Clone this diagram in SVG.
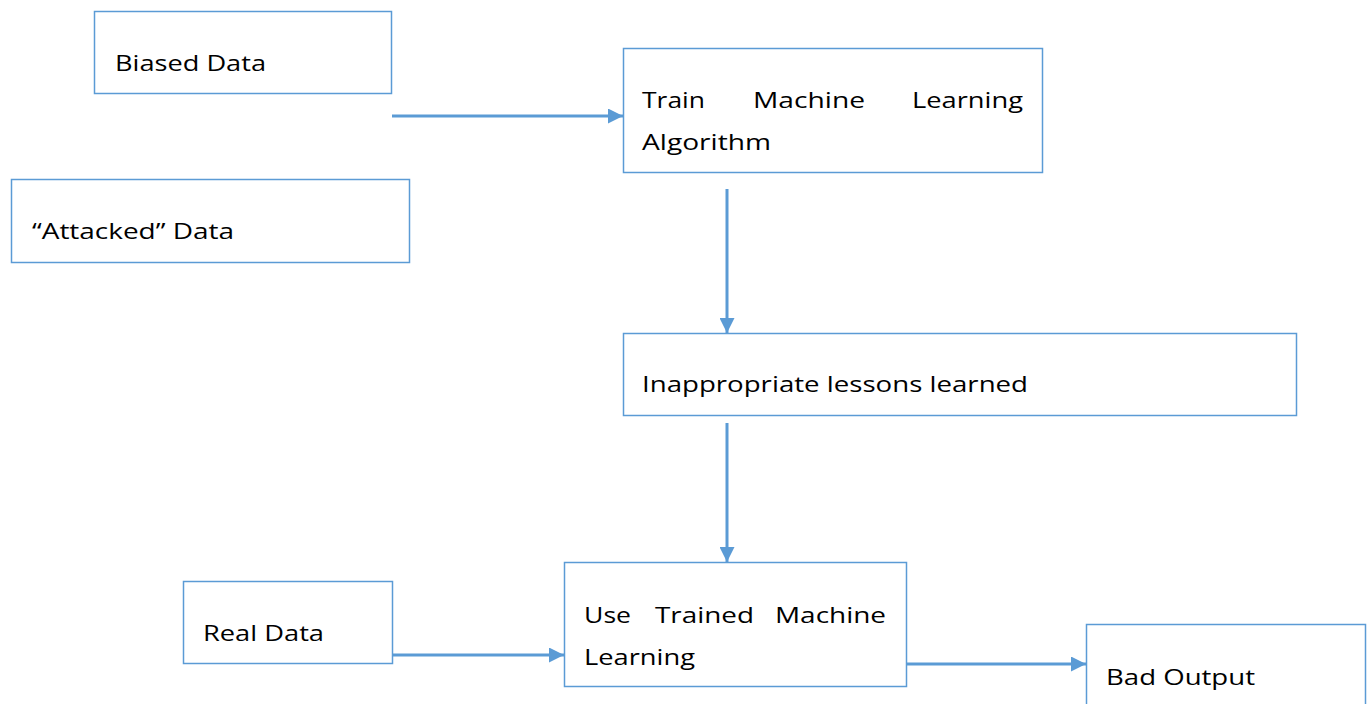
<svg xmlns="http://www.w3.org/2000/svg" width="1371" height="704" viewBox="0 0 1371 704">
<defs>
<style>
.box{fill:#fff;stroke:#5B9BD5;stroke-width:1.5}
.t{font-family:"Open Sans","Noto Sans","Liberation Sans",sans-serif;font-size:22px;fill:#000}
.c{stroke:#5B9BD5;stroke-width:3;fill:none}
</style>
<marker id="ah" viewBox="0 0 10 10" refX="10" refY="5" markerWidth="5" markerHeight="5" markerUnits="strokeWidth" orient="auto">
<path d="M0,0 L10,5 L0,10 z" fill="#5B9BD5"/>
</marker>
</defs>
<rect width="1371" height="704" fill="#fff"/>
<g id="biased">
<rect class="box" x="94.5" y="11.5" width="297" height="82"/>
<text class="t" x="115" y="71" textLength="151" lengthAdjust="spacingAndGlyphs">Biased Data</text>
</g>
<g id="attacked">
<rect class="box" x="11.5" y="179.5" width="398" height="83"/>
<text class="t" x="32" y="239" textLength="202" lengthAdjust="spacingAndGlyphs">“Attacked” Data</text>
</g>
<g id="train">
<rect class="box" x="623.5" y="48.5" width="419" height="124"/>
<text class="t" x="642" y="108" textLength="63" lengthAdjust="spacingAndGlyphs">Train</text>
<text class="t" x="753" y="108" textLength="112" lengthAdjust="spacingAndGlyphs">Machine</text>
<text class="t" x="912" y="108" textLength="111" lengthAdjust="spacingAndGlyphs">Learning</text>
<text class="t" x="642" y="150" textLength="129" lengthAdjust="spacingAndGlyphs">Algorithm</text>
</g>
<g id="inappropriate">
<rect class="box" x="623.5" y="333.5" width="673" height="82"/>
<text class="t" x="642" y="392" textLength="386" lengthAdjust="spacingAndGlyphs">Inappropriate lessons learned</text>
</g>
<g id="real">
<rect class="box" x="183.5" y="581.5" width="209" height="82"/>
<text class="t" x="203" y="641" textLength="121" lengthAdjust="spacingAndGlyphs">Real Data</text>
</g>
<g id="use">
<rect class="box" x="564.5" y="562.5" width="342" height="124"/>
<text class="t" x="584" y="623" textLength="47" lengthAdjust="spacingAndGlyphs">Use</text>
<text class="t" x="655" y="623" textLength="99" lengthAdjust="spacingAndGlyphs">Trained</text>
<text class="t" x="775" y="623" textLength="111" lengthAdjust="spacingAndGlyphs">Machine</text>
<text class="t" x="584" y="665" textLength="111" lengthAdjust="spacingAndGlyphs">Learning</text>
</g>
<g id="bad">
<rect class="box" x="1086.5" y="624.5" width="279" height="90"/>
<text class="t" x="1106" y="685" textLength="149" lengthAdjust="spacingAndGlyphs">Bad Output</text>
</g>
<g id="connectors">
<line class="c" x1="392" y1="116" x2="623" y2="116" marker-end="url(#ah)"/>
<line class="c" x1="727" y1="189" x2="727" y2="333" marker-end="url(#ah)"/>
<line class="c" x1="727" y1="423" x2="727" y2="562" marker-end="url(#ah)"/>
<line class="c" x1="392" y1="655" x2="564" y2="655" marker-end="url(#ah)"/>
<line class="c" x1="906" y1="664" x2="1086" y2="664" marker-end="url(#ah)"/>
</g>
</svg>
